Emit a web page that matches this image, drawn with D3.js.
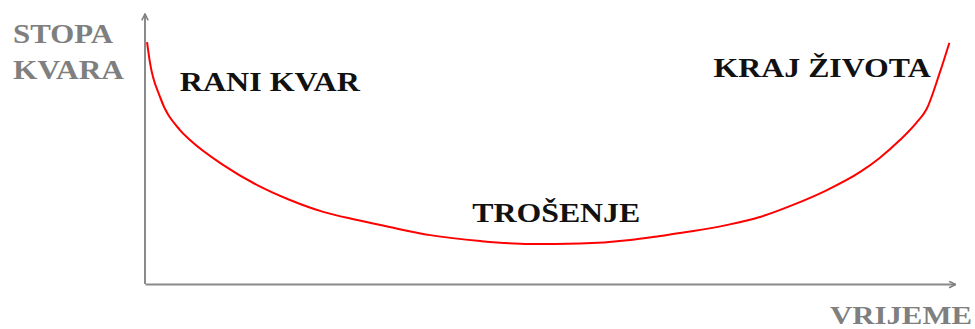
<!DOCTYPE html>
<html>
<head>
<meta charset="utf-8">
<script src="https://cdn.jsdelivr.net/npm/d3@7"></script>
<style>
  body { margin: 0; background: #fff; }
  svg { display: block; }
  text { font-family: "Liberation Serif", "Times New Roman", "DejaVu Serif", serif; font-weight: bold; }
</style>
</head>
<body>
<svg></svg>
<script>
// bathtub curve (time 0..100, failure rate 0..100)
let times = [0.25, 0.62, 1.85, 4.32, 5.56, 9.63, 13.8, 17.9, 22.0, 26.2, 30.2, 35.2, 41.4, 47.5, 53.7, 59.9, 63.6, 67.7, 71.9, 75.9, 80.0, 84.2, 88.3, 90.7, 93.2, 95.2, 96.5, 98.1, 99.3]
let rates = [89.6, 81.9, 69.3, 57.0, 53.3, 44.1, 36.7, 31.1, 26.7, 23.7, 21.1, 18.1, 15.9, 14.8, 15.0, 16.3, 17.8, 19.6, 21.9, 24.8, 29.3, 34.8, 41.5, 46.7, 53.3, 59.6, 64.8, 78.1, 89.3]

let phaseLabels = ["RANI KVAR", "TROŠENJE", "KRAJ ŽIVOTA"]
let phaseX = [4.3, 40.4, 70.2]
let phaseY = [71.5, 23, 76.5]

let yTitle = ["STOPA", "KVARA"]
let xTitle = "VRIJEME"

let width = 975
let height = 329

// widths of the labels as they appear in the picture
let phaseWidths = [180, 168, 217]
let yTitleWidths = [100, 111]

let svg = d3.select("svg")
    .attr("width", width)
    .attr("height", height)

let xScale = d3.scaleLinear()
    .domain([0, 100])
    .range([145, 955])

let yScale = d3.scaleLinear()
    .domain([0, 100])
    .range([284, 14])

let defs = svg.append("defs")
defs.append("marker")
    .attr("id", "arrow")
    .attr("viewBox", "0 0 10 10")
    .attr("refX", 9)
    .attr("refY", 5)
    .attr("markerWidth", 4)
    .attr("markerHeight", 4)
    .attr("orient", "auto")
    .append("path")
    .attr("d", "M1,1 L9,5 L1,9")
    .attr("fill", "none")
    .attr("stroke", "#808080")
    .attr("stroke-width", 2)

// axes without ticks, just the lines
let xAxis = d3.axisBottom(xScale).ticks(0).tickSize(0).tickSizeOuter(0)
let yAxis = d3.axisLeft(yScale).ticks(0).tickSize(0).tickSizeOuter(0)

let gx = svg.append("g")
    .attr("transform", "translate(0," + yScale(0) + ")")
    .call(xAxis)
let gy = svg.append("g")
    .attr("transform", "translate(" + xScale(0) + ",0)")
    .call(yAxis)

svg.selectAll(".domain")
    .attr("stroke", "#8a8a8a")
    .attr("stroke-width", 2)

gx.select(".domain").attr("marker-end", "url(#arrow)")
// y axis path runs top -> bottom, draw arrow at the top
gy.select(".domain")
    .attr("d", "M0," + yScale(0) + "V" + yScale(100))
    .attr("marker-end", "url(#arrow)")

let points = times.map((t, i) => [t, rates[i]])

let line = d3.line()
    .x(d => xScale(d[0]))
    .y(d => yScale(d[1]))
    .curve(d3.curveMonotoneX)

svg.append("path")
    .datum(points)
    .attr("d", line)
    .attr("fill", "none")
    .attr("stroke", "#ff0000")
    .attr("stroke-width", 2)

svg.selectAll(".phase")
    .data(phaseLabels)
    .enter()
    .append("text")
    .attr("class", "phase")
    .attr("x", (d, i) => xScale(phaseX[i]))
    .attr("y", (d, i) => yScale(phaseY[i]))
    .attr("textLength", (d, i) => phaseWidths[i])
    .attr("lengthAdjust", "spacingAndGlyphs")
    .text(d => d)
    .style("font-size", "28px")
    .style("fill", "#111")

svg.selectAll(".ytitle")
    .data(yTitle)
    .enter()
    .append("text")
    .attr("class", "ytitle")
    .attr("x", 13)
    .attr("y", (d, i) => 43 + i * 36)
    .attr("textLength", (d, i) => yTitleWidths[i])
    .attr("lengthAdjust", "spacingAndGlyphs")
    .text(d => d)
    .style("font-size", "27px")
    .style("fill", "#7f7f7f")

svg.append("text")
    .attr("x", 830)
    .attr("y", 324)
    .attr("textLength", 142)
    .attr("lengthAdjust", "spacingAndGlyphs")
    .text(xTitle)
    .style("font-size", "26px")
    .style("fill", "#7f7f7f")
</script>
</body>
</html>
